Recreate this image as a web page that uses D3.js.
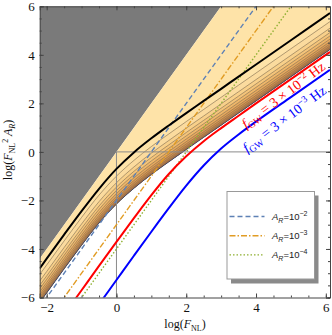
<!DOCTYPE html>
<html><head><meta charset="utf-8">
<script src="https://cdnjs.cloudflare.com/ajax/libs/d3/7.8.5/d3.min.js"></script>
<style>body{margin:0;background:#fff}svg{display:block}</style>
</head><body><svg id="c" width="332" height="335"></svg>
<script>
// ---- data ----
const xs     = [-2.2,-2,-1.5,-1,-0.5,0,0.5,1,1.5,2,2.5,3,3.5,4,5,6.12];
const blackY = [-4.80,-4.40,-3.41,-2.44,-1.52,-0.70,-0.02,0.56,1.09,1.60,2.10,2.60,3.10,3.60,4.60,5.72];
const redY   = [-8.10,-7.70,-6.70,-5.70,-4.70,-3.71,-2.73,-1.78,-0.91,-0.18,0.44,0.98,1.49,2.00,3.00,4.12];
const blueY  = [-9.68,-9.28,-8.28,-7.28,-6.28,-5.28,-4.28,-3.29,-2.32,-1.39,-0.56,0.14,0.72,1.25,2.26,3.38];
const edgeY  = [-6.20,-5.81,-4.82,-3.85,-2.93,-2.15,-1.50,-0.93,-0.41,0.10,0.60,1.10,1.60,2.10,3.10,4.22];
const contourOffsets = [1.15,0.88,0.70,0.56,0.43,0.32,0.23,0.15,0.08];
const bandColors = ["#FBDB9E","#F8D08A","#F4C47A","#EFB76A","#E8A95D","#DF9B52","#D38D49","#C47E42","#B06F3C"];
// A_R = 1 boundary (gray excluded region) endpoints
const excludedLine = [[-2.2,-4.4],[3,6]];
// fixed A_R lines, endpoints
const arLines = [
  {exp:"−2", pts:[[-2.2,-6.4],[4,6]], color:"#5E81B5", dash:"5,3"},
  {exp:"−3", pts:[[-2.2,-7.4],[4.5,6]], color:"#E19C24", dash:"6,2,1.5,2"},
  {exp:"−4", pts:[[-2.2,-8.4],[5,6]], color:"#8FB032", dash:"1.5,2"}
];
const xTicks = [-2,0,2,4,6];
const yTicks = [-6,-4,-2,0,2,4,6];

// ---- layout ----
const svg = d3.select("#c");
const x = d3.scaleLinear().domain([-2.2,6.12]).range([39.7,330]);
const y = d3.scaleLinear().domain([-6,6]).range([297.5,6.3]);
const serif = "'Liberation Serif','Times New Roman',serif";

svg.append("defs").append("clipPath").attr("id","clip")
  .append("rect").attr("x",x.range()[0]).attr("y",y.range()[1])
  .attr("width",x.range()[1]-x.range()[0]).attr("height",y.range()[0]-y.range()[1]);
const g = svg.append("g").attr("clip-path","url(#clip)");

const pts = ys => xs.map((v,i)=>[v,ys[i]]);
const line = d3.line().x(d=>x(d[0])).y(d=>y(d[1])).curve(d3.curveMonotoneX);
const area = d3.area().x(d=>x(d[0])).y0(d=>y(d[1])).y1(d=>y(d[2])).curve(d3.curveMonotoneX);

// gray excluded region
const [p0,p1] = excludedLine;
g.append("path").attr("fill","#7A7A7A")
  .attr("d",`M${x(p0[0])},${y(p0[1])}L${x(p1[0])},${y(p1[1])}L${x(p1[0])},${y(6)}L${x(-2.2)},${y(6)}Z`);
// light yellow allowed region: from excluded line down to edge
const slope = (p1[1]-p0[1])/(p1[0]-p0[0]);
g.append("path").attr("fill","#FEE3A8")
  .attr("d",area(xs.map((v,i)=>[v,edgeY[i],p0[1]+slope*(v-p0[0])])));
// bands
contourOffsets.forEach((o,k)=>{
  g.append("path").attr("fill",bandColors[k])
    .attr("d",area(xs.map((v,i)=>[v,edgeY[i],edgeY[i]+o])));
});
contourOffsets.forEach((o)=>{
  g.append("path").attr("fill","none").attr("stroke","#8C7658").attr("stroke-width",0.8).attr("stroke-opacity",0.85)
    .attr("d",line(xs.map((v,i)=>[v,edgeY[i]+o])));
});
g.append("path").attr("fill","none").attr("stroke","#3E4A6A").attr("stroke-width",1)
  .attr("d",line(pts(edgeY)));

// reference lines at 0
g.append("line").attr("x1",x(0)).attr("x2",x(6.12)).attr("y1",y(0)).attr("y2",y(0)).attr("stroke","#8a8a8a").attr("stroke-width",1);
g.append("line").attr("x1",x(0)).attr("x2",x(0)).attr("y1",y(0)).attr("y2",y(-6)).attr("stroke","#8a8a8a").attr("stroke-width",1);

// A_R lines
arLines.forEach(a=>{
  g.append("path").attr("fill","none").attr("stroke",a.color).attr("stroke-width",1.4)
   .attr("stroke-dasharray",a.dash).attr("d",d3.line().x(d=>x(d[0])).y(d=>y(d[1]))(a.pts));
});
// black, red, blue curves
g.append("path").attr("fill","none").attr("stroke","#000").attr("stroke-width",2).attr("d",line(pts(blackY)));
g.append("path").attr("fill","none").attr("stroke","#FF0000").attr("stroke-width",2).attr("d",line(pts(redY)));
g.append("path").attr("fill","none").attr("stroke","#0000FF").attr("stroke-width",2).attr("d",line(pts(blueY)));

// curve labels
function fLabel(tx,ty,exp,color){
  const t = svg.append("text").attr("transform",`translate(${tx},${ty}) rotate(-37)`)
    .attr("font-family",serif).attr("font-size",14).attr("fill",color);
  t.append("tspan").attr("font-style","italic").text("f");
  t.append("tspan").attr("font-size",9.5).attr("dy",3).text("GW");
  t.append("tspan").attr("dy",-3).text(" = 3 × 10");
  t.append("tspan").attr("font-size",9.5).attr("dy",-5.5).text(exp);
  t.append("tspan").attr("dy",5.5).text(" Hz");
}
fLabel(246,129,"−2","#FF0000");
fLabel(247,153,"−3","#0000FF");

// axes
const axCol = "#444";
function styleAxis(sel){ sel.selectAll("path,line").attr("stroke",axCol); sel.select(".domain").attr("stroke-width",1);
  sel.selectAll("text").attr("font-family",serif).attr("font-size",13).attr("fill","#111"); }
const minorX = d3.range(-2,6.01,0.5), minorY = d3.range(-6,6.01,0.5);
const addAxis = (gen, tr, major, minor, labels) => {
  const gm = svg.append("g").attr("transform",tr).call(gen.tickValues(minor).tickSize(-2).tickFormat("")).call(s=>s.select(".domain").remove());
  gm.selectAll("line").attr("stroke",axCol);
  const ga = svg.append("g").attr("transform",tr).call(gen.tickValues(major).tickSize(-4).tickPadding(labels?5:0).tickFormat(labels?d3.format("d"):""));
  styleAxis(ga);
};
addAxis(d3.axisBottom(x).tickSizeOuter(0), `translate(0,${y(-6)})`, xTicks, minorX, true);
addAxis(d3.axisTop(x).tickSizeOuter(0), `translate(0,${y(6)})`, xTicks, minorX, false);
addAxis(d3.axisLeft(y).tickSizeOuter(0), `translate(${x(-2.2)},0)`, yTicks, minorY, true);
addAxis(d3.axisRight(y).tickSizeOuter(0), `translate(${x(6.12)},0)`, yTicks, minorY, false);

// axis titles
const xl = svg.append("text").attr("x",185).attr("y",328).attr("text-anchor","middle")
  .attr("font-family",serif).attr("font-size",12).attr("fill","#111");
xl.append("tspan").text("log(");
xl.append("tspan").attr("font-style","italic").text("F");
xl.append("tspan").attr("font-size",8).attr("dy",2.5).text("NL");
xl.append("tspan").attr("dy",-2.5).text(")");

const yl = svg.append("text").attr("transform","translate(12,150) rotate(-90)").attr("text-anchor","middle")
  .attr("font-family",serif).attr("font-size",12).attr("fill","#111");
yl.append("tspan").text("log(");
yl.append("tspan").attr("font-style","italic").text("F");
yl.append("tspan").attr("font-size",8).attr("dy",2.5).text("NL");
yl.append("tspan").attr("font-size",8).attr("dy",-7).text("2");
yl.append("tspan").attr("dy",4.5).attr("font-style","italic").text(" A");
yl.append("tspan").attr("font-size",8).attr("font-style","italic").attr("dy",2.5).text("R");
yl.append("tspan").attr("dy",-2.5).text(")");

// legend
const lg = svg.append("g");
lg.append("rect").attr("x",231).attr("y",195.5).attr("width",87.5).attr("height",88).attr("fill","#8a8a8a");
lg.append("rect").attr("x",227).attr("y",191.5).attr("width",87.5).attr("height",87.5).attr("fill","#fff").attr("stroke","#999").attr("stroke-width",1);
arLines.forEach((a,i)=>{
  const yy = 216.5 + i*19.2;
  lg.append("line").attr("x1",229.5).attr("x2",264.5).attr("y1",yy).attr("y2",yy)
    .attr("stroke",a.color).attr("stroke-width",1.4).attr("stroke-dasharray",a.dash);
  const t = lg.append("text").attr("x",272).attr("y",yy+3.5).attr("font-family","'Liberation Sans',Arial,sans-serif")
    .attr("font-size",9.5).attr("fill","#222");
  t.append("tspan").attr("font-style","italic").text("A");
  t.append("tspan").attr("font-style","italic").attr("font-size",7).attr("dy",2.5).text("R");
  t.append("tspan").attr("dy",-2.5).text("=10");
  t.append("tspan").attr("font-size",7).attr("dy",-4).text(a.exp);
});
</script></body></html>
